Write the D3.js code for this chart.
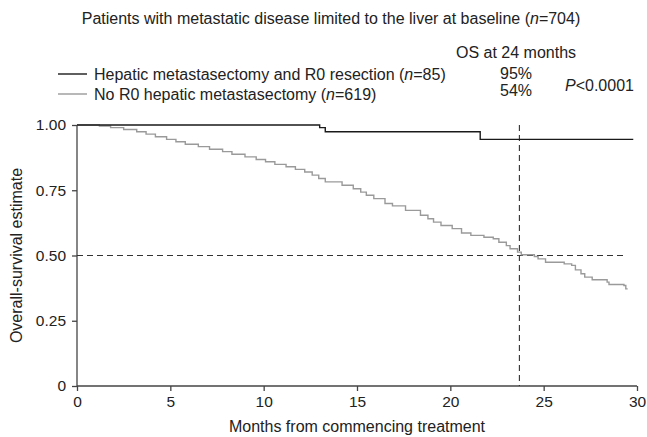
<!DOCTYPE html>
<html>
<head>
<meta charset="utf-8">
<script src="https://cdnjs.cloudflare.com/ajax/libs/d3/7.8.5/d3.min.js"></script>
<style>
  body { margin: 0; background: #fff; }
  svg { font-family: "Liberation Sans", Arial, sans-serif; }
  .ax path, .ax line { stroke: #444; stroke-width: 1.3; }
  .ax text { font-size: 15.5px; fill: #222; }
</style>
</head>
<body>
<svg id="chart" width="647" height="437"></svg>
<script>
// months, survival after the step
var resectTimes = [0, 13.0, 13.3, 21.6, 29.8];
var resectSurv  = [1.0, 0.99, 0.974, 0.945, 0.945];

var noResectTimes = [0, 1.2, 1.8, 2.5, 3.2, 3.7, 4.2, 4.8, 5.3, 5.8, 6.5, 7.1, 7.8, 8.3, 9.0, 9.6, 10.1, 10.6, 11.2, 11.7, 12.2, 12.6, 12.95, 13.3, 14.2, 14.8, 15.2, 15.5, 15.9, 16.5, 16.9, 17.6, 18.4, 18.8, 19.1, 19.5, 20.1, 20.6, 21.1, 21.8, 22.3, 22.6, 23.0, 23.2, 23.6, 23.8, 24.5, 24.7, 25.1, 26.1, 26.5, 26.7, 27.0, 27.2, 27.6, 28.4, 28.5, 29.3, 29.4, 29.5];
var noResectSurv  = [1.0, 0.996, 0.99, 0.983, 0.974, 0.965, 0.955, 0.945, 0.936, 0.926, 0.917, 0.907, 0.898, 0.888, 0.878, 0.868, 0.859, 0.849, 0.840, 0.830, 0.820, 0.808, 0.795, 0.782, 0.769, 0.756, 0.743, 0.731, 0.718, 0.699, 0.690, 0.673, 0.654, 0.641, 0.628, 0.615, 0.603, 0.586, 0.577, 0.570, 0.564, 0.551, 0.538, 0.526, 0.513, 0.503, 0.496, 0.487, 0.474, 0.468, 0.462, 0.445, 0.430, 0.417, 0.407, 0.398, 0.389, 0.385, 0.372, 0.372];

var xTicks = [0, 5, 10, 15, 20, 25, 30];
var yTicks = [0, 0.25, 0.5, 0.75, 1];
var yTickLabels = ["0", "0.25", "0.50", "0.75", "1.00"];

var medianMonth = 23.7;   // vertical reference line
var halfLineEnd = 29.25;  // where the 0.5 dashed line stops

var svg = d3.select('#chart');

var x = d3.scaleLinear().domain([0, 30]).range([77, 637]);
var y = d3.scaleLinear().domain([0, 1]).range([386, 125]);

//axes
svg.append('g').attr('class', 'ax')
  .attr('transform', 'translate(0,' + y(0) + ')')
  .call(d3.axisBottom(x).tickValues(xTicks).tickSize(5).tickSizeOuter(0).tickPadding(5))
  .call(function(g){ g.select('.domain').attr('d', 'M' + x(0) + ',0H' + x(30)); });

svg.append('g').attr('class', 'ax')
  .attr('transform', 'translate(' + x(0) + ',0)')
  .call(d3.axisLeft(y).tickValues(yTicks).tickSize(5).tickSizeOuter(0).tickPadding(6)
    .tickFormat(function(d, i){ return yTickLabels[i]; }))
  .call(function(g){ g.select('.domain').attr('d', 'M0,' + y(0) + 'V' + y(1)); });

svg.selectAll('.ax .domain').attr('fill', 'none');

//reference dashes
svg.append('line')
  .attr('x1', x(0)).attr('x2', x(halfLineEnd))
  .attr('y1', y(0.5)).attr('y2', y(0.5))
  .attr('stroke', '#333').attr('stroke-width', 1.1).attr('stroke-dasharray', '6,4');
svg.append('line')
  .attr('x1', x(medianMonth)).attr('x2', x(medianMonth))
  .attr('y1', y(1)).attr('y2', y(0))
  .attr('stroke', '#333').attr('stroke-width', 1.1).attr('stroke-dasharray', '6,4');

//km curves
var step = d3.line()
  .x(function(d){ return x(d[0]); })
  .y(function(d){ return y(d[1]); })
  .curve(d3.curveStepAfter);

svg.append('path')
  .attr('d', step(d3.zip(noResectTimes, noResectSurv)))
  .attr('fill', 'none').attr('stroke', '#9a9a9a').attr('stroke-width', 1.4);

svg.append('path')
  .attr('d', step(d3.zip(resectTimes, resectSurv)))
  .attr('fill', 'none').attr('stroke', '#1a1a1a').attr('stroke-width', 1.4);

//titles
var fs = 16;
var title = svg.append('text').attr('x', 331).attr('y', 24)
  .attr('text-anchor', 'middle').attr('font-size', fs).attr('fill', '#222');
title.append('tspan').text('Patients with metastatic disease limited to the liver at baseline (');
title.append('tspan').attr('font-style', 'italic').text('n');
title.append('tspan').text('=704)');

svg.append('text').attr('x', 516).attr('y', 58)
  .attr('text-anchor', 'middle').attr('font-size', fs).attr('fill', '#222')
  .text('OS at 24 months');

var legendRows = [
  { label: 'Hepatic metastasectomy and R0 resection (', n: '85', os: '95%', color: '#1a1a1a', y: 74 },
  { label: 'No R0 hepatic metastasectomy (', n: '619', os: '54%', color: '#9a9a9a', y: 94 }
];

legendRows.forEach(function(r, i){
  svg.append('line').attr('x1', 58).attr('x2', 87).attr('y1', r.y).attr('y2', r.y)
    .attr('stroke', r.color).attr('stroke-width', 1.4);
  var t = svg.append('text').attr('x', 94).attr('y', r.y + 6)
    .attr('font-size', fs).attr('fill', '#222');
  t.append('tspan').text(r.label);
  t.append('tspan').attr('font-style', 'italic').text('n');
  t.append('tspan').text('=' + r.n + ')');
  svg.append('text').attr('x', 516).attr('y', i == 0 ? 79 : 96)
    .attr('text-anchor', 'middle').attr('font-size', fs).attr('fill', '#222')
    .text(r.os);
});

var p = svg.append('text').attr('x', 565).attr('y', 91)
  .attr('font-size', fs).attr('fill', '#222');
p.append('tspan').attr('font-style', 'italic').text('P');
p.append('tspan').text('<0.0001');

svg.append('text').attr('x', x(15)).attr('y', 432)
  .attr('text-anchor', 'middle').attr('font-size', fs).attr('fill', '#222')
  .text('Months from commencing treatment');

svg.append('text')
  .attr('transform', 'translate(22,' + y(0.5) + ') rotate(-90)')
  .attr('text-anchor', 'middle').attr('font-size', fs).attr('fill', '#222')
  .text('Overall-survival estimate');
</script>
</body>
</html>
